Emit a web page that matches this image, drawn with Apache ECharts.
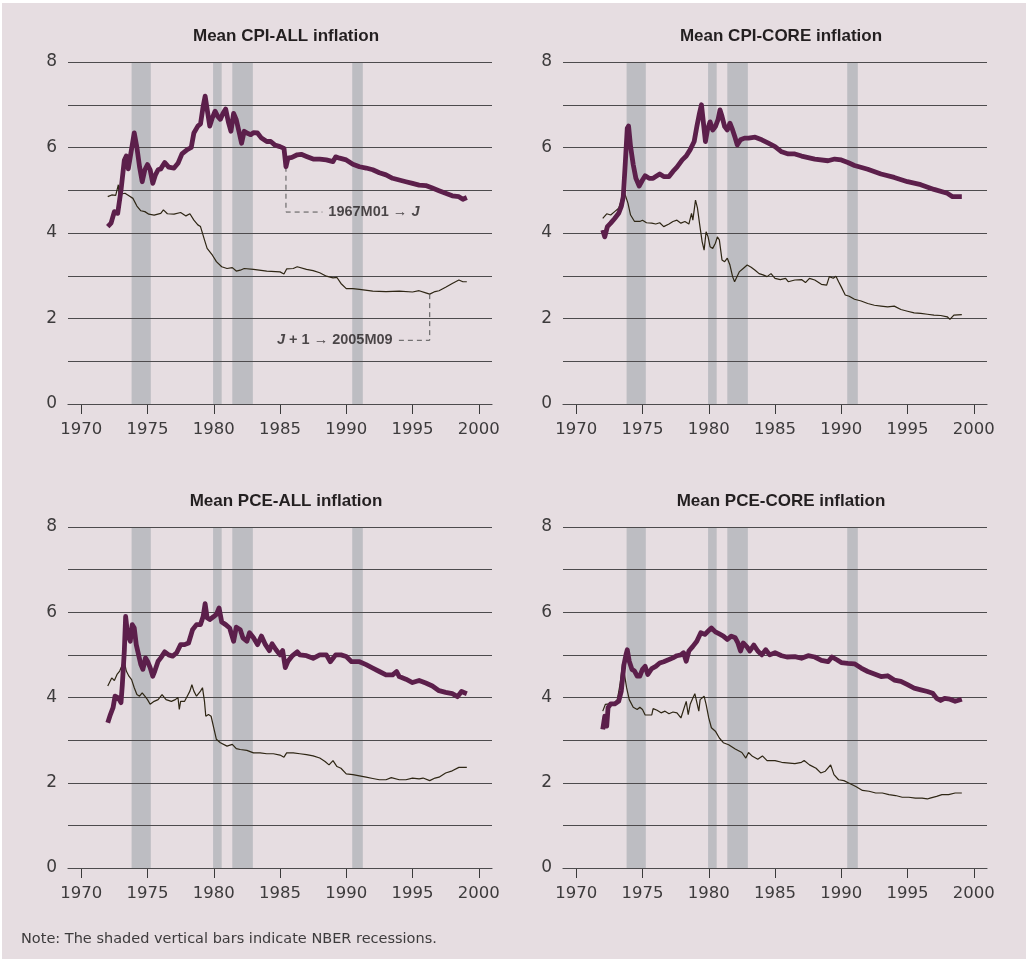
<!DOCTYPE html>
<html>
<head>
<meta charset="utf-8">
<title>Mean inflation</title>
<script src="https://cdn.jsdelivr.net/npm/echarts@6/dist/echarts.min.js"></script>
<style>
  html, body { margin: 0; padding: 0; background: #fff; }
  #chart { position: absolute; left: 2px; top: 3px; width: 1024px; height: 956px; background: #e6dde1; }
</style>
</head>
<body>
<div id="chart"></div>
<script>
// NBER recessions, [start, end] in years
const recessions = [[1973.8, 1975.25], [1979.95, 1980.6], [1981.4, 1982.95], [1990.45, 1991.25]];
const yearTicks = [1970, 1975, 1980, 1985, 1990, 1995, 2000];

// thick line: mean 1967M01 -> J ; thin line: mean J+1 -> 2005M09
const cpiAllMean = [[1972.0,4.15],[1972.25,4.23],[1972.5,4.5],[1972.75,4.46],[1973.0,5.0],[1973.25,5.7],[1973.4,5.8],[1973.55,5.5],[1973.7,5.47],[1974.0,6.34],[1974.2,6.0],[1974.4,5.55],[1974.6,5.2],[1974.8,5.48],[1975.0,5.6],[1975.2,5.48],[1975.4,5.16],[1975.6,5.36],[1975.8,5.48],[1976.0,5.5],[1976.3,5.65],[1976.6,5.54],[1977.0,5.52],[1977.3,5.63],[1977.6,5.85],[1978.0,5.95],[1978.3,6.0],[1978.5,6.34],[1978.8,6.5],[1979.0,6.55],[1979.2,6.96],[1979.35,7.2],[1979.55,6.8],[1979.7,6.5],[1979.9,6.7],[1980.1,6.85],[1980.3,6.73],[1980.5,6.66],[1980.7,6.8],[1980.9,6.9],[1981.1,6.6],[1981.3,6.38],[1981.5,6.8],[1981.7,6.65],[1981.9,6.38],[1982.1,6.1],[1982.3,6.38],[1982.5,6.34],[1982.8,6.3],[1983.0,6.35],[1983.3,6.34],[1983.6,6.22],[1984.0,6.14],[1984.3,6.14],[1984.6,6.06],[1985.0,6.02],[1985.3,5.98],[1985.45,5.55],[1985.6,5.75],[1985.9,5.77],[1986.3,5.83],[1986.6,5.84],[1987.0,5.79],[1987.5,5.73],[1988.0,5.73],[1988.5,5.71],[1989.0,5.67],[1989.2,5.78],[1989.5,5.75],[1990.0,5.71],[1990.5,5.61],[1991.0,5.55],[1991.5,5.52],[1992.0,5.48],[1992.5,5.41],[1993.0,5.36],[1993.5,5.28],[1994.0,5.24],[1994.5,5.2],[1995.0,5.16],[1995.5,5.12],[1996.0,5.11],[1996.5,5.05],[1997.0,4.99],[1997.5,4.93],[1998.0,4.87],[1998.5,4.85],[1998.8,4.79],[1999.1,4.83]];
const cpiAllRest = [[1972.0,4.85],[1972.3,4.89],[1972.6,4.88],[1972.75,4.9],[1972.8,5.13],[1972.85,4.9],[1973.0,4.93],[1973.3,4.93],[1973.6,4.87],[1973.9,4.81],[1974.2,4.63],[1974.5,4.52],[1974.8,4.5],[1975.1,4.44],[1975.5,4.42],[1976.0,4.46],[1976.2,4.54],[1976.5,4.45],[1977.0,4.44],[1977.5,4.48],[1977.9,4.4],[1978.2,4.45],[1978.5,4.3],[1978.8,4.19],[1979.0,4.15],[1979.3,3.84],[1979.5,3.64],[1979.6,3.6],[1979.9,3.48],[1980.2,3.33],[1980.6,3.21],[1981.0,3.17],[1981.4,3.19],[1981.7,3.11],[1982.0,3.13],[1982.3,3.17],[1983.0,3.15],[1984.0,3.11],[1985.0,3.09],[1985.3,3.04],[1985.5,3.16],[1986.0,3.17],[1986.3,3.21],[1987.0,3.15],[1987.5,3.12],[1988.0,3.07],[1988.5,2.99],[1989.0,2.95],[1989.3,2.96],[1989.6,2.82],[1990.0,2.7],[1990.5,2.7],[1991.0,2.68],[1992.0,2.64],[1993.0,2.63],[1994.0,2.64],[1995.0,2.62],[1995.5,2.65],[1996.0,2.6],[1996.3,2.57],[1996.7,2.63],[1997.0,2.65],[1997.5,2.73],[1998.0,2.82],[1998.5,2.9],[1998.8,2.86],[1999.1,2.86]];

const cpiCoreMean = [[1972.0,4.07],[1972.15,3.91],[1972.35,4.15],[1972.6,4.23],[1972.9,4.34],[1973.2,4.46],[1973.4,4.62],[1973.55,4.85],[1973.7,5.63],[1973.85,6.45],[1973.95,6.5],[1974.1,6.02],[1974.3,5.6],[1974.5,5.28],[1974.75,5.1],[1975.0,5.24],[1975.2,5.34],[1975.5,5.28],[1975.8,5.28],[1976.0,5.32],[1976.3,5.38],[1976.6,5.32],[1977.0,5.32],[1977.3,5.44],[1977.6,5.54],[1978.0,5.71],[1978.3,5.8],[1978.6,5.95],[1978.9,6.14],[1979.1,6.49],[1979.3,6.8],[1979.45,7.0],[1979.6,6.57],[1979.75,6.14],[1979.9,6.41],[1980.1,6.6],[1980.3,6.41],[1980.5,6.49],[1980.7,6.65],[1980.85,6.88],[1981.0,6.73],[1981.2,6.49],[1981.4,6.41],[1981.6,6.57],[1981.8,6.41],[1982.0,6.22],[1982.15,6.06],[1982.4,6.18],[1982.7,6.22],[1983.0,6.22],[1983.5,6.24],[1984.0,6.18],[1984.5,6.1],[1985.0,6.02],[1985.5,5.9],[1986.0,5.85],[1986.5,5.85],[1987.0,5.8],[1988.0,5.73],[1989.0,5.69],[1989.5,5.73],[1990.0,5.71],[1990.5,5.65],[1991.0,5.58],[1992.0,5.49],[1993.0,5.38],[1994.0,5.3],[1995.0,5.2],[1996.0,5.13],[1997.0,5.02],[1998.0,4.93],[1998.4,4.85],[1999.1,4.85]];
const cpiCoreRest = [[1972.0,4.34],[1972.3,4.45],[1972.6,4.42],[1972.9,4.5],[1973.2,4.58],[1973.4,4.77],[1973.55,5.05],[1973.7,4.89],[1973.9,4.7],[1974.1,4.42],[1974.4,4.27],[1974.8,4.27],[1975.0,4.3],[1975.3,4.24],[1975.7,4.23],[1976.0,4.21],[1976.3,4.24],[1976.6,4.15],[1977.0,4.21],[1977.3,4.27],[1977.6,4.3],[1977.9,4.23],[1978.2,4.27],[1978.5,4.21],[1978.7,4.46],[1978.8,4.3],[1979.0,4.77],[1979.15,4.58],[1979.3,4.23],[1979.5,3.8],[1979.65,3.6],[1979.8,4.03],[1979.95,3.91],[1980.1,3.68],[1980.3,3.64],[1980.5,3.76],[1980.65,3.91],[1980.8,3.84],[1981.0,3.37],[1981.2,3.33],[1981.4,3.41],[1981.6,3.25],[1981.8,2.98],[1981.95,2.86],[1982.1,2.86],[1982.3,3.09],[1982.6,3.17],[1982.9,3.25],[1983.2,3.2],[1983.5,3.13],[1983.8,3.05],[1984.1,3.02],[1984.4,2.98],[1984.7,3.05],[1985.0,2.94],[1985.4,2.91],[1985.8,2.94],[1986.0,2.86],[1986.5,2.9],[1987.0,2.91],[1987.3,2.84],[1987.6,2.94],[1988.0,2.9],[1988.5,2.8],[1988.9,2.78],[1989.1,2.98],[1989.4,2.94],[1989.6,2.99],[1989.8,2.86],[1990.0,2.74],[1990.3,2.55],[1990.6,2.52],[1991.0,2.45],[1991.5,2.41],[1992.0,2.35],[1992.5,2.31],[1993.0,2.29],[1993.5,2.27],[1994.0,2.29],[1994.5,2.21],[1995.0,2.17],[1995.5,2.13],[1996.0,2.12],[1996.5,2.1],[1997.0,2.08],[1997.5,2.07],[1998.0,2.04],[1998.2,1.98],[1998.5,2.08],[1999.1,2.09]];

const pceAllMean = [[1972.0,3.41],[1972.2,3.6],[1972.4,3.76],[1972.55,4.03],[1972.8,3.99],[1973.0,3.88],[1973.1,4.3],[1973.25,5.09],[1973.35,5.9],[1973.5,5.48],[1973.7,5.32],[1973.85,5.71],[1974.0,5.63],[1974.15,5.24],[1974.3,5.28],[1974.5,4.77],[1974.65,4.66],[1974.85,4.93],[1975.0,4.85],[1975.2,4.7],[1975.4,4.5],[1975.55,4.62],[1975.8,4.85],[1976.0,4.93],[1976.3,5.07],[1976.6,5.0],[1976.9,4.97],[1977.2,5.05],[1977.5,5.24],[1977.8,5.24],[1978.1,5.28],[1978.4,5.59],[1978.7,5.71],[1979.0,5.71],[1979.2,5.9],[1979.35,6.2],[1979.5,5.87],[1979.7,5.83],[1980.0,5.9],[1980.2,5.95],[1980.4,6.1],[1980.6,5.77],[1980.9,5.71],[1981.2,5.63],[1981.5,5.32],[1981.7,5.65],[1982.0,5.59],[1982.2,5.4],[1982.5,5.32],[1982.7,5.52],[1983.0,5.4],[1983.3,5.24],[1983.6,5.44],[1983.9,5.24],[1984.2,5.1],[1984.4,5.26],[1984.7,5.12],[1985.0,5.0],[1985.2,5.1],[1985.4,4.7],[1985.6,4.85],[1985.9,4.97],[1986.3,5.07],[1986.5,5.0],[1987.0,4.98],[1987.5,4.92],[1988.0,5.0],[1988.5,5.0],[1988.8,4.84],[1989.2,5.0],[1989.6,5.0],[1990.0,4.96],[1990.4,4.84],[1991.0,4.84],[1991.5,4.77],[1992.0,4.69],[1992.5,4.61],[1993.0,4.53],[1993.5,4.53],[1993.8,4.61],[1994.0,4.49],[1994.5,4.43],[1995.0,4.35],[1995.5,4.4],[1996.0,4.34],[1996.5,4.27],[1997.0,4.16],[1997.5,4.12],[1998.0,4.09],[1998.4,4.02],[1998.7,4.14],[1999.1,4.09]];
const pceAllRest = [[1972.0,4.27],[1972.3,4.46],[1972.5,4.4],[1972.7,4.54],[1972.9,4.62],[1973.1,4.77],[1973.25,4.84],[1973.4,4.62],[1973.6,4.5],[1973.8,4.42],[1974.0,4.23],[1974.2,4.07],[1974.4,4.03],[1974.6,4.11],[1974.8,4.03],[1975.0,3.95],[1975.2,3.84],[1975.5,3.91],[1975.8,3.95],[1976.1,4.07],[1976.4,3.95],[1976.8,3.91],[1977.1,3.95],[1977.3,4.0],[1977.4,3.72],[1977.5,3.91],[1977.8,3.91],[1978.0,4.03],[1978.2,4.15],[1978.35,4.3],[1978.5,4.15],[1978.7,4.03],[1979.0,4.15],[1979.15,4.23],[1979.3,3.91],[1979.4,3.56],[1979.6,3.6],[1979.8,3.56],[1980.0,3.29],[1980.2,3.02],[1980.5,2.94],[1981.0,2.86],[1981.4,2.9],[1981.7,2.8],[1982.0,2.78],[1982.5,2.76],[1983.0,2.7],[1983.5,2.7],[1984.0,2.68],[1984.5,2.68],[1985.0,2.65],[1985.3,2.6],[1985.5,2.7],[1986.0,2.7],[1986.5,2.68],[1987.0,2.66],[1987.5,2.63],[1988.0,2.58],[1988.4,2.5],[1988.7,2.42],[1989.0,2.52],[1989.3,2.38],[1989.6,2.34],[1990.0,2.21],[1990.5,2.19],[1991.0,2.16],[1991.5,2.13],[1992.0,2.1],[1992.5,2.07],[1993.0,2.07],[1993.4,2.12],[1994.0,2.07],[1994.5,2.07],[1995.0,2.11],[1995.5,2.09],[1995.8,2.11],[1996.3,2.05],[1996.7,2.11],[1997.0,2.13],[1997.5,2.23],[1998.0,2.28],[1998.5,2.36],[1999.1,2.36]];

const pceCoreMean = [[1972.0,3.25],[1972.15,3.56],[1972.3,3.33],[1972.4,3.76],[1972.6,3.85],[1972.9,3.85],[1973.2,3.91],[1973.4,4.15],[1973.6,4.77],[1973.75,5.0],[1973.85,5.12],[1974.0,4.85],[1974.2,4.66],[1974.4,4.62],[1974.6,4.5],[1974.8,4.5],[1975.0,4.66],[1975.2,4.73],[1975.4,4.54],[1975.7,4.68],[1976.0,4.73],[1976.3,4.81],[1976.6,4.84],[1977.0,4.89],[1977.3,4.93],[1977.6,4.98],[1977.9,5.0],[1978.1,5.05],[1978.3,4.85],[1978.5,5.09],[1978.8,5.2],[1979.1,5.32],[1979.4,5.52],[1979.7,5.48],[1980.0,5.57],[1980.2,5.63],[1980.5,5.54],[1980.8,5.49],[1981.1,5.44],[1981.4,5.36],[1981.7,5.44],[1982.0,5.4],[1982.2,5.28],[1982.4,5.09],[1982.6,5.28],[1982.9,5.18],[1983.1,5.09],[1983.4,5.23],[1983.7,5.09],[1984.0,5.0],[1984.3,5.12],[1984.6,5.0],[1985.0,5.05],[1985.5,4.98],[1985.9,4.95],[1986.5,4.96],[1987.0,4.92],[1987.5,4.98],[1988.0,4.95],[1988.5,4.87],[1989.0,4.84],[1989.3,4.95],[1989.7,4.88],[1990.0,4.82],[1990.5,4.8],[1991.0,4.79],[1991.5,4.69],[1992.0,4.61],[1992.5,4.55],[1993.0,4.49],[1993.5,4.51],[1994.0,4.41],[1994.5,4.38],[1995.0,4.3],[1995.5,4.22],[1996.0,4.18],[1996.5,4.14],[1996.9,4.1],[1997.2,3.98],[1997.5,3.93],[1997.8,3.98],[1998.2,3.96],[1998.6,3.91],[1999.1,3.96]];
const pceCoreRest = [[1972.0,3.68],[1972.2,3.84],[1972.5,3.85],[1972.8,3.85],[1973.1,3.95],[1973.3,4.3],[1973.5,4.8],[1973.6,4.62],[1973.8,4.23],[1974.0,3.95],[1974.3,3.77],[1974.6,3.72],[1974.8,3.77],[1975.0,3.72],[1975.2,3.59],[1975.5,3.59],[1975.7,3.59],[1975.8,3.74],[1976.1,3.7],[1976.4,3.64],[1976.7,3.68],[1977.0,3.62],[1977.3,3.66],[1977.6,3.64],[1977.9,3.52],[1978.0,3.48],[1978.3,3.91],[1978.45,3.6],[1978.6,3.84],[1978.8,3.99],[1978.95,4.09],[1979.1,4.09],[1979.25,3.68],[1979.35,3.95],[1979.5,3.99],[1979.65,4.03],[1979.8,3.84],[1980.0,3.52],[1980.2,3.29],[1980.5,3.21],[1980.8,3.05],[1981.1,2.94],[1981.5,2.89],[1982.0,2.79],[1982.5,2.71],[1982.8,2.58],[1983.0,2.71],[1983.3,2.62],[1983.7,2.55],[1984.05,2.63],[1984.4,2.52],[1985.0,2.52],[1985.5,2.48],[1986.5,2.45],[1987.0,2.48],[1987.2,2.52],[1987.6,2.42],[1988.1,2.34],[1988.45,2.23],[1988.8,2.27],[1989.2,2.42],[1989.45,2.19],[1989.8,2.07],[1990.2,2.05],[1990.6,1.99],[1991.1,1.91],[1991.6,1.82],[1992.1,1.8],[1992.6,1.76],[1993.1,1.76],[1993.6,1.72],[1994.1,1.7],[1994.6,1.66],[1995.1,1.66],[1995.6,1.64],[1996.1,1.64],[1996.5,1.62],[1996.7,1.64],[1997.2,1.68],[1997.6,1.72],[1998.1,1.72],[1998.6,1.76],[1999.1,1.76]];

// annotation leaders in the CPI-ALL panel (data coordinates)
const leaderStart = [[1985.45, 5.55], [1985.45, 4.49], [1988.2, 4.49]];
const leaderEnd = [[1996.3, 2.57], [1996.3, 1.49], [1993.75, 1.49]];
const labelStart = [1988.65, 4.49];
const labelEnd = [1993.5, 1.49];

const panels = [
    {title: 'Mean CPI-ALL inflation', mean: cpiAllMean, rest: cpiAllRest},
    {title: 'Mean CPI-CORE inflation', mean: cpiCoreMean, rest: cpiCoreRest},
    {title: 'Mean PCE-ALL inflation', mean: pceAllMean, rest: pceAllRest},
    {title: 'Mean PCE-CORE inflation', mean: pceCoreMean, rest: pceCoreRest}
];

const PURPLE = '#5c1f4b';
const THIN = '#2e2614';
const GRIDLINE = '#4d4b4d';
const BAND = '#bdbdc2';
const AXIS_FONT = 'DejaVu Sans';
const BOLD_FONT = 'Liberation Sans';

const gridPos = [
    {left: 66, top: 59, width: 424, height: 342},
    {left: 561, top: 59, width: 424, height: 342},
    {left: 66, top: 524, width: 424, height: 341},
    {left: 561, top: 524, width: 424, height: 341}
];

let titles = [], grids = [], xAxes = [], yAxes = [], series = [];

panels.forEach((p, i) => {
    let g = gridPos[i];
    grids.push(Object.assign({containLabel: false}, g));
    titles.push({
        text: p.title,
        left: g.left + g.width / 2 + 6,
        top: g.top - 34,
        padding: 0,
        textAlign: 'center',
        textStyle: {fontFamily: BOLD_FONT, fontWeight: 'bold', fontSize: 17, color: '#231f20'}
    });
    xAxes.push({
        type: 'value', gridIndex: i, min: 1969, max: 2001,
        splitLine: {show: false},
        axisLine: {show: true, onZero: false, lineStyle: {color: '#3a3a3a', width: 1}},
        axisTick: {show: true, customValues: yearTicks, length: 10, lineStyle: {color: '#3a3a3a'}},
        axisLabel: {
            customValues: yearTicks, margin: 17, fontFamily: AXIS_FONT, fontSize: 16.5, color: '#3d3b3c',
            formatter: v => String(v)
        }
    });
    yAxes.push({
        type: 'value', gridIndex: i, min: 0, max: 8, interval: 1, z: 1.5,
        axisLine: {show: false},
        axisTick: {show: false},
        axisLabel: {
            margin: 11, fontFamily: AXIS_FONT, fontSize: 17, color: '#3d3b3c',
            formatter: v => (v % 2 === 0 ? String(v) : '')
        },
        splitLine: {show: true, lineStyle: {color: GRIDLINE, width: 1}}
    });
    series.push({
        type: 'line', xAxisIndex: i, yAxisIndex: i, data: p.rest,
        showSymbol: false, z: 3,
        lineStyle: {color: THIN, width: 1.2}
    });
    series.push({
        type: 'line', xAxisIndex: i, yAxisIndex: i, data: p.mean,
        showSymbol: false, z: 4,
        lineStyle: {color: PURPLE, width: 4.8, join: 'round'},
        markArea: {
            silent: true, z: 1,
            itemStyle: {color: BAND},
            data: recessions.map(r => [{xAxis: r[0]}, {xAxis: r[1]}])
        }
    });
});

// dashed leaders and their labels, first panel only
const leaderStyle = {color: '#555', width: 1, type: [5, 4]};
series.push({type: 'line', xAxisIndex: 0, yAxisIndex: 0, data: leaderStart, showSymbol: false, z: 3, lineStyle: leaderStyle});
series.push({type: 'line', xAxisIndex: 0, yAxisIndex: 0, data: leaderEnd, showSymbol: false, z: 3, lineStyle: leaderStyle});

const noteRich = {
    n: {fontFamily: BOLD_FONT, fontWeight: 'bold', fontSize: 14.5, color: '#231f20'},
    j: {fontFamily: BOLD_FONT, fontWeight: 'bold', fontStyle: 'italic', fontSize: 14.5, color: '#231f20'}
};
series.push({
    type: 'scatter', xAxisIndex: 0, yAxisIndex: 0, symbolSize: 0, z: 5,
    data: [labelStart],
    label: {show: true, position: 'right', distance: 0, formatter: '{n|1967M01 → }{j|J}', rich: noteRich}
});
series.push({
    type: 'scatter', xAxisIndex: 0, yAxisIndex: 0, symbolSize: 0, z: 5,
    data: [labelEnd],
    label: {show: true, position: 'left', distance: 0, formatter: '{j|J}{n| + 1 → 2005M09}', rich: noteRich}
});

titles.push({
    text: 'Note: The shaded vertical bars indicate NBER recessions.',
    left: 19, top: 929, padding: 0,
    textStyle: {fontFamily: AXIS_FONT, fontWeight: 'normal', fontSize: 14.5, color: '#3d3b3c'}
});

const myChart = echarts.init(document.getElementById('chart'));
myChart.setOption({
    animation: false,
    backgroundColor: '#e6dde1',
    title: titles,
    grid: grids,
    xAxis: xAxes,
    yAxis: yAxes,
    series: series
});
</script>
</body>
</html>
